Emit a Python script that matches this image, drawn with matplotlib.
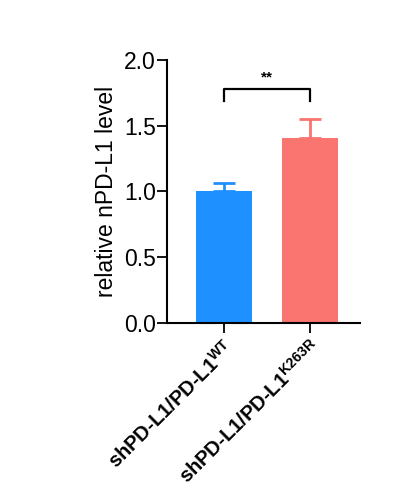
import matplotlib
matplotlib.use("Agg")
import matplotlib.pyplot as plt

plt.rcParams['font.family'] = ['Liberation Sans', 'DejaVu Sans']
plt.rcParams['mathtext.fontset'] = 'custom'
plt.rcParams['mathtext.rm'] = 'Liberation Sans:bold'
plt.rcParams['mathtext.bf'] = 'Liberation Sans:bold'

categories = [r'shPD-L1/PD-L1$^{\mathrm{WT}}$', r'shPD-L1/PD-L1$^{\mathrm{K263R}}$']
means = [1.0, 1.41]
errors = [0.065, 0.14]
colors = ['#1E90FF', '#FA7470']
y_ticks = [0.0, 0.5, 1.0, 1.5, 2.0]
sig_label = '**'
ylabel = 'relative nPD-L1 level'

fig = plt.figure(figsize=(3.99, 4.99), dpi=100)
ax = fig.add_axes([0.4185, 0.3527, 0.4835, 0.5271])

x = list(range(len(categories)))
ax.bar(x, means, width=0.66, color=colors, zorder=2)
for xi, m, e, c in zip(x, means, errors, colors):
    ax.errorbar(xi, m, yerr=[[0], [e]], color=c, capsize=8, capthick=2, elinewidth=2, zorder=1)

# significance bracket
y_br = 1.78
ax.plot([0, 0, 1, 1], [1.69, y_br, y_br, 1.69], color='black', lw=1.6, clip_on=False)
ax.text(0.5, y_br + 0.03, sig_label, ha='center', va='bottom', fontsize=11, fontweight='bold')

ax.set_xlim(-0.663, 1.58)
ax.set_ylim(0, 2.0)
ax.set_yticks(y_ticks)
ax.set_yticklabels([f'{t:.1f}' for t in y_ticks], fontsize=16.5)
ax.set_xticks(x)
ax.set_xticklabels(categories, rotation=45, ha='right', rotation_mode='anchor',
                   fontsize=14.5, fontweight='bold')
ax.set_ylabel(ylabel, fontsize=16.5, labelpad=4)

for s in ['top', 'right']:
    ax.spines[s].set_visible(False)
for s in ['left', 'bottom']:
    ax.spines[s].set_linewidth(1.5)
ax.tick_params(axis='both', length=7, width=1.3)
ax.tick_params(axis='y', pad=1)
ax.tick_params(axis='x', pad=3)

fig.savefig('out.png', dpi=100)
